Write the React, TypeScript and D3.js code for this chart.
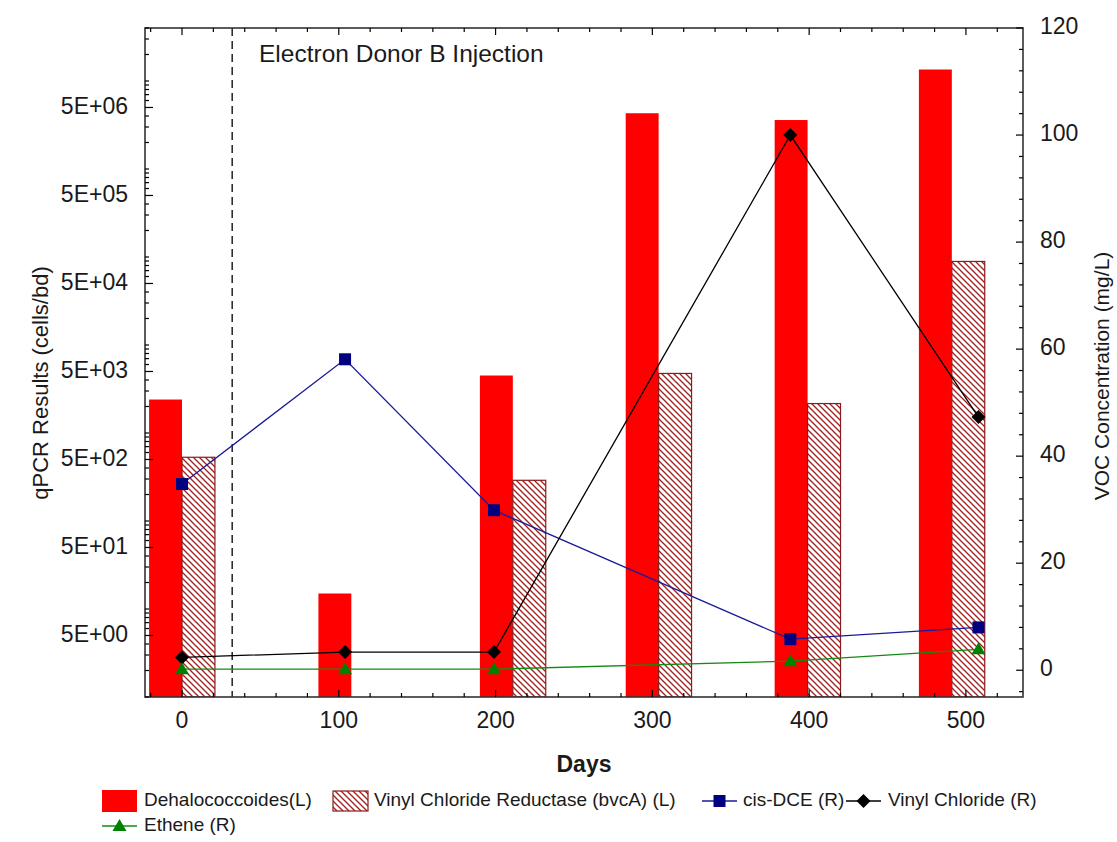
import React from 'react';
import * as d3 from 'd3';

// ---- data ----
const barDays = [0, 108, 211, 304, 399, 491];
const dehalococcoides = [2400, 15, 4500, 4.3e6, 3.6e6, 1.35e7];
const bvcA: (number | null)[] = [530, null, 290, 4750, 2160, 8.9e4];
const sampleDays = [0, 104, 199, 388, 508];
const cisDCE = [34.8, 58.1, 29.9, 5.8, 8.0];
const vinylChloride = [2.4, 3.4, 3.4, 100, 47.3];
const ethene = [0.2, 0.2, 0.2, 1.7, 3.9];
const xTickValues = [0, 100, 200, 300, 400, 500];
const leftTickValues = [5, 50, 500, 5000, 50000, 500000, 5000000];
const leftTickLabels = ['5E+00', '5E+01', '5E+02', '5E+03', '5E+04', '5E+05', '5E+06'];
const rightTickValues = [0, 20, 40, 60, 80, 100, 120];
const injectionDay = 32;
const barWidthDays = 21;

const FONT = '"Liberation Sans", Arial, sans-serif';
const L = 145, R = 1023, T = 28, B = 697;

export default function App() {
  const x = d3.scaleLinear().domain([-23.6, 536.4]).range([L, R]);
  const yL = d3.scaleLog().domain([1, 4e7]).range([B, T]);
  const yR = d3.scaleLinear().domain([-5, 120]).range([B, T]);
  const bw = x(barWidthDays) - x(0);

  const minorLeft: number[] = [];
  for (let k = 0; k <= 7; k++) for (let d = 1; d <= 9; d++) {
    const v = d * Math.pow(10, k);
    if (d !== 5 && v >= 1 && v <= 4e7) minorLeft.push(v);
  }
  const xMinor = d3.range(-20, 540, 20).filter(v => v % 100 !== 0);
  const rMinor = d3.range(-4, 121, 4).filter(v => v % 20 !== 0);

  const lineGen = (vals: number[]) =>
    d3.line<number>().x((_, i) => x(sampleDays[i])).y(v => yR(v))(vals) || '';

  const square = (cx: number, cy: number, key: string, color = '#000080') =>
    <rect key={key} x={cx - 6} y={cy - 6} width={12} height={12} fill={color} />;
  const diamond = (cx: number, cy: number, key: string) =>
    <path key={key} d={`M${cx},${cy - 7}L${cx + 7},${cy}L${cx},${cy + 7}L${cx - 7},${cy}Z`} fill="#000" />;
  const triangle = (cx: number, cy: number, key: string) =>
    <path key={key} d={`M${cx},${cy - 7}L${cx + 7},${cy + 5}L${cx - 7},${cy + 5}Z`} fill="#008000" />;

  const textColor = '#1a1a1a';

  return (
    <svg width={1117} height={842} style={{ position: 'absolute', left: 0, top: 0, background: '#fff' }}
      fontFamily={FONT}>
      <defs>
        <pattern id="hatch" patternUnits="userSpaceOnUse" width={6} height={6}>
          <rect width={6} height={6} fill="#fff" />
          <path d="M-1,-1L7,7M-1,5L1,7M5,-1L7,1" stroke="#9b2020" strokeWidth={1.3} />
        </pattern>
        <clipPath id="plot"><rect x={L} y={T} width={R - L} height={B - T} /></clipPath>
      </defs>

      {/* bars */}
      <g clipPath="url(#plot)">
        {barDays.map((d, i) => (
          <rect key={'r' + i} x={x(d) - bw} y={yL(dehalococcoides[i])} width={bw}
            height={B - yL(dehalococcoides[i])} fill="#ff0000" />
        ))}
        {barDays.map((d, i) => bvcA[i] == null ? null : (
          <rect key={'h' + i} x={x(d)} y={yL(bvcA[i] as number)} width={bw}
            height={B - yL(bvcA[i] as number)} fill="url(#hatch)" stroke="#8b1a1a" strokeWidth={1.2} />
        ))}
      </g>

      {/* injection line */}
      <line x1={x(injectionDay)} x2={x(injectionDay)} y1={T} y2={B} stroke="#000" strokeWidth={1.3}
        strokeDasharray="8,5" />
      <text x={259} y={62} fontSize={24.5} fill={textColor}>Electron Donor B Injection</text>

      {/* lines */}
      <path d={lineGen(cisDCE)} fill="none" stroke="#1a1a9a" strokeWidth={1.3} />
      <path d={lineGen(vinylChloride)} fill="none" stroke="#000" strokeWidth={1.3} />
      <path d={lineGen(ethene)} fill="none" stroke="#138a13" strokeWidth={1.4} />
      {cisDCE.map((v, i) => square(x(sampleDays[i]), yR(v), 'cs' + i))}
      {vinylChloride.map((v, i) => diamond(x(sampleDays[i]), yR(v), 'vc' + i))}
      {ethene.map((v, i) => triangle(x(sampleDays[i]), yR(v), 'et' + i))}

      {/* frame */}
      <rect x={L} y={T} width={R - L} height={B - T} fill="none" stroke="#333" strokeWidth={1.6} />

      {/* bottom / top ticks */}
      {xTickValues.map(v => (
        <g key={'xt' + v}>
          <line x1={x(v)} x2={x(v)} y1={B} y2={B - 7} stroke="#000" strokeWidth={1.2} />
          <line x1={x(v)} x2={x(v)} y1={T} y2={T + 7} stroke="#000" strokeWidth={1.2} />
          <text x={x(v)} y={722} fontSize={23} textAnchor="middle" dominantBaseline="middle" fill={textColor}>{v}</text>
        </g>
      ))}
      {xMinor.map(v => (
        <g key={'xm' + v}>
          <line x1={x(v)} x2={x(v)} y1={B} y2={B - 4} stroke="#000" strokeWidth={1.2} />
          <line x1={x(v)} x2={x(v)} y1={T} y2={T + 4} stroke="#000" strokeWidth={1.2} />
        </g>
      ))}

      {/* left ticks */}
      {leftTickValues.map((v, i) => (
        <g key={'lt' + v}>
          <line x1={L} x2={L + 8} y1={yL(v)} y2={yL(v)} stroke="#000" strokeWidth={1.2} />
          <text x={128} y={yL(v)} fontSize={23} textAnchor="end" dominantBaseline="middle" fill={textColor}>
            {leftTickLabels[i]}
          </text>
        </g>
      ))}
      {minorLeft.map(v => (
        <line key={'lm' + v} x1={L} x2={L + 4} y1={yL(v)} y2={yL(v)} stroke="#000" strokeWidth={1.2} />
      ))}

      {/* right ticks */}
      {rightTickValues.map(v => (
        <g key={'rt' + v}>
          <line x1={R} x2={R - 7} y1={yR(v)} y2={yR(v)} stroke="#000" strokeWidth={1.2} />
          <text x={1040} y={yR(v)} fontSize={23} textAnchor="start" dominantBaseline="middle" fill={textColor}>{v}</text>
        </g>
      ))}
      {rMinor.map(v => (
        <line key={'rm' + v} x1={R} x2={R - 4} y1={yR(v)} y2={yR(v)} stroke="#000" strokeWidth={1.2} />
      ))}

      {/* axis titles */}
      <text transform="translate(42,383) rotate(-90)" fontSize={22} textAnchor="middle" dominantBaseline="middle"
        fill={textColor}>qPCR Results (cells/bd)</text>
      <text transform="translate(1103,376) rotate(-90)" fontSize={21} textAnchor="middle" dominantBaseline="middle"
        fill={textColor}>VOC Concentration (mg/L)</text>
      <text x={584} y={766} fontSize={23} fontWeight="bold" textAnchor="middle" dominantBaseline="middle"
        fill={textColor}>Days</text>

      {/* legend */}
      <g fontSize={19} fill={textColor}>
        <rect x={102} y={790} width={35} height={22} fill="#ff0000" />
        <text x={144} y={801} dominantBaseline="middle">Dehalococcoides(L)</text>
        <rect x={333} y={791} width={35} height={20} fill="url(#hatch)" stroke="#8b1a1a" strokeWidth={1.2} />
        <text x={374} y={801} dominantBaseline="middle">Vinyl Chloride Reductase (bvcA) (L)</text>
        <line x1={702} x2={737} y1={801} y2={801} stroke="#1a1a9a" strokeWidth={1.5} />
        {square(719.5, 801, 'lg1')}
        <text x={743} y={801} dominantBaseline="middle">cis-DCE (R)</text>
        <line x1={846} x2={881} y1={801} y2={801} stroke="#000" strokeWidth={1.5} />
        {diamond(863.5, 801, 'lg2')}
        <text x={888} y={801} dominantBaseline="middle">Vinyl Chloride (R)</text>
        <line x1={102} x2={137} y1={826} y2={826} stroke="#138a13" strokeWidth={1.6} />
        {triangle(119.5, 826, 'lg3')}
        <text x={144} y={826} dominantBaseline="middle">Ethene (R)</text>
      </g>
    </svg>
  );
}
